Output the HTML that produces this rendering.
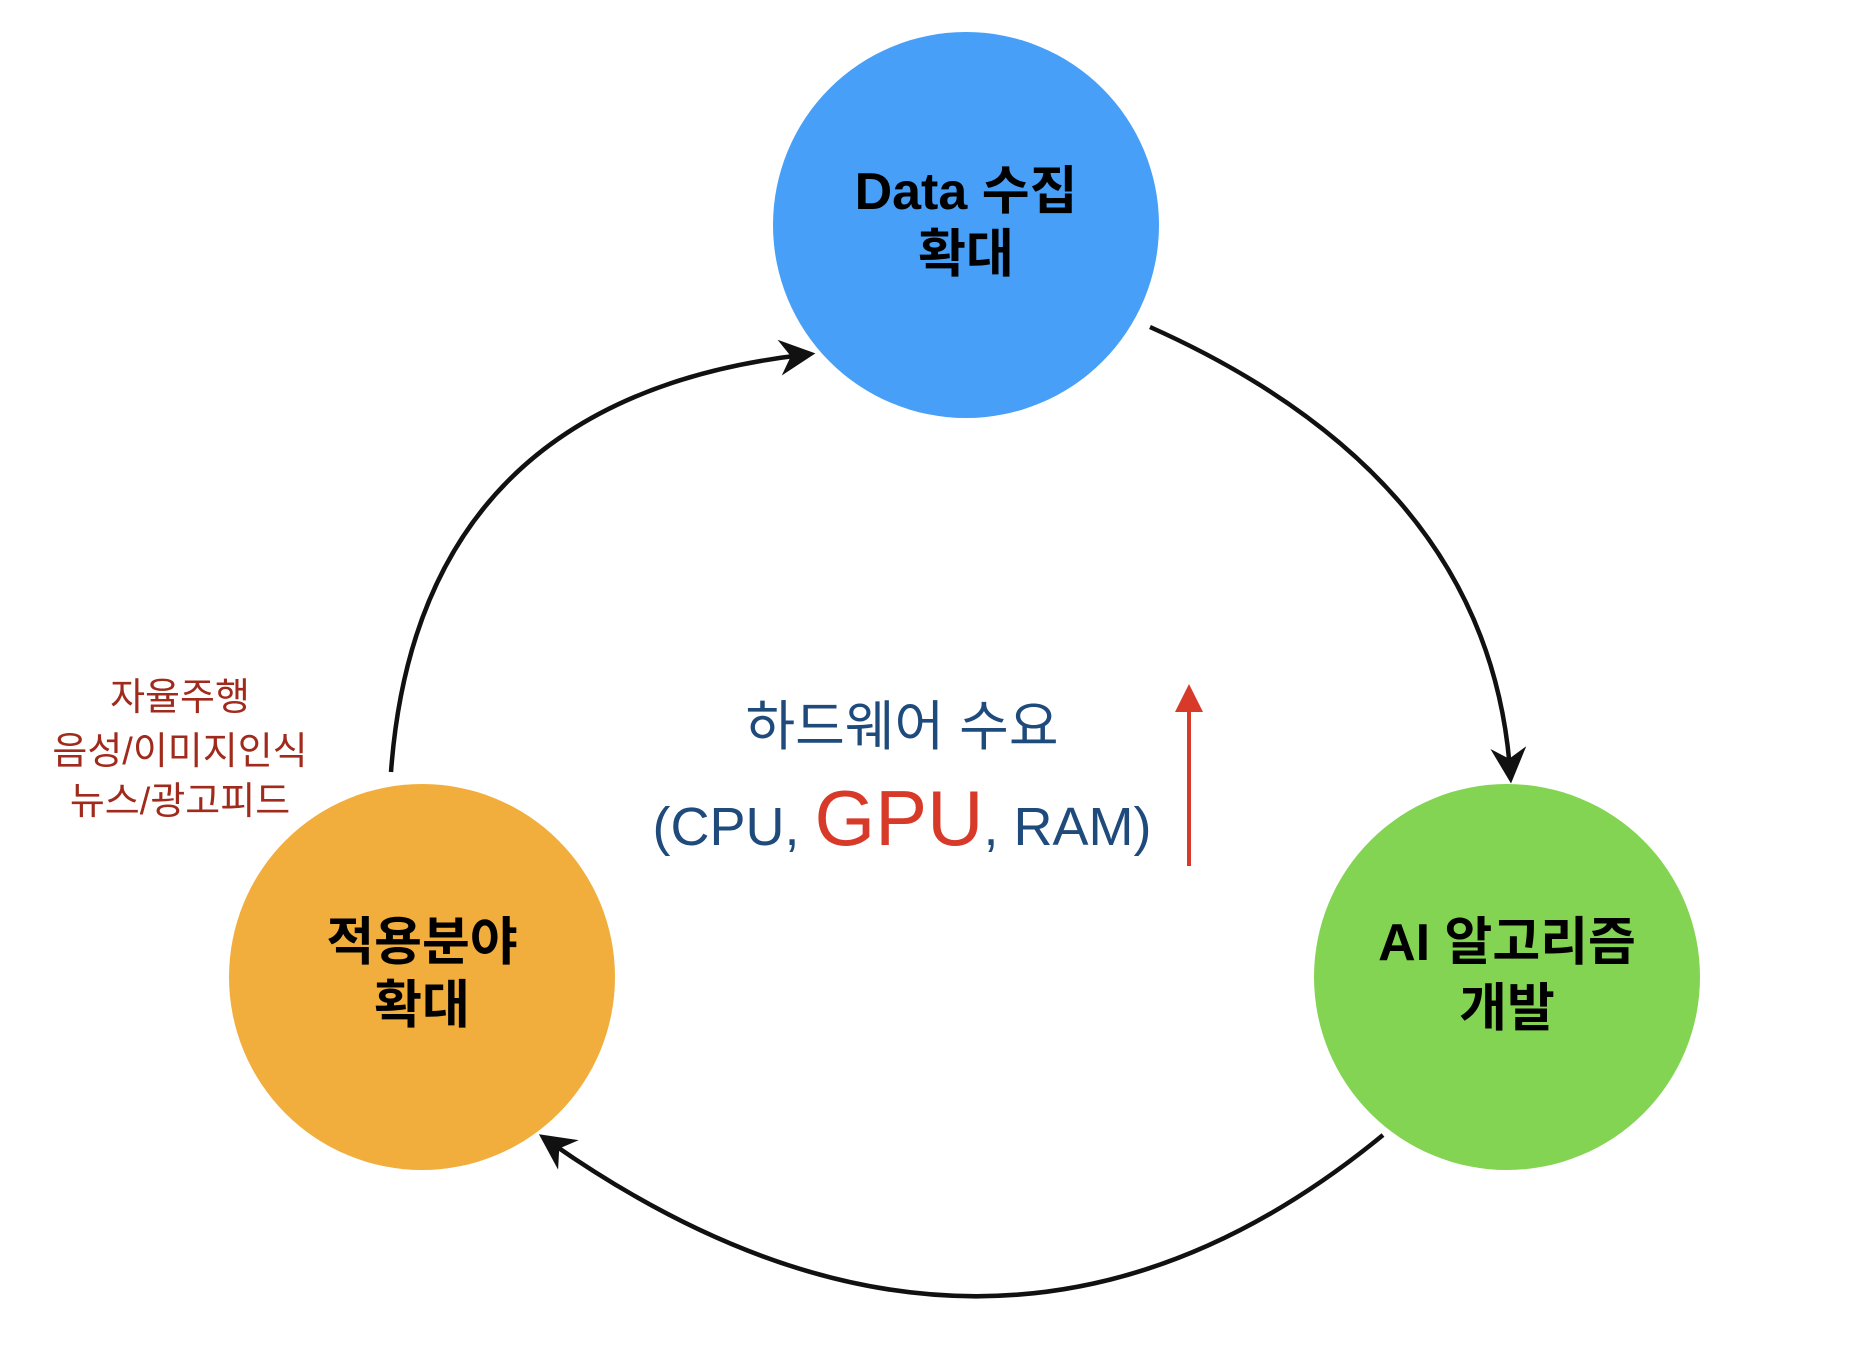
<!DOCTYPE html>
<html><head><meta charset="utf-8"><style>
html,body{margin:0;padding:0;background:#fff;}
body{width:1868px;height:1362px;position:relative;overflow:hidden;font-family:"Liberation Sans","Noto Sans CJK KR",sans-serif;}
.t{position:absolute;text-align:center;transform:translate(-50%,-50%);white-space:nowrap;line-height:1;}
</style></head><body>
<svg width="1868" height="1362" style="position:absolute;left:0;top:0">
<defs>
<marker id="ah" markerWidth="8" markerHeight="8" refX="5" refY="4" orient="auto" markerUnits="strokeWidth">
<path d="M0,0 L8,4 L0,8 L2.5,4 Z" fill="#111"/></marker>
<marker id="rh" markerWidth="7" markerHeight="7" refX="3" refY="3.5" orient="auto" markerUnits="strokeWidth">
<path d="M0,0 L7,3.5 L0,7 Z" fill="#d83a2a"/></marker>
</defs>
<circle cx="966" cy="225" r="193" fill="#479ff8"/>
<circle cx="422" cy="977" r="193" fill="#f2ae3d"/>
<circle cx="1507" cy="977" r="193" fill="#83d452"/>
<path d="M1150,327 Q1488,478 1510,770" fill="none" stroke="#111" stroke-width="4.5" marker-end="url(#ah)"/>
<path d="M1383,1135 Q995,1454 550,1142" fill="none" stroke="#111" stroke-width="4.5" marker-end="url(#ah)"/>
<path d="M391,772 Q418,400 802,355" fill="none" stroke="#111" stroke-width="4.5" marker-end="url(#ah)"/>
<line x1="1194" y1="866" x2="1194" y2="700" stroke="#d83a2a" stroke-width="4" marker-end="url(#rh)" transform="translate(-5,0)"/>
</svg>
<div class="t" style="left:966px;top:192px;font-size:52px;font-weight:bold">Data 수집</div>
<div class="t" style="left:966px;top:255px;font-size:52px;font-weight:bold">확대</div>
<div class="t" style="left:422px;top:943px;font-size:52px;font-weight:bold">적용분야</div>
<div class="t" style="left:422px;top:1006px;font-size:52px;font-weight:bold">확대</div>
<div class="t" style="left:1507px;top:943px;font-size:52px;font-weight:bold">AI 알고리즘</div>
<div class="t" style="left:1507px;top:1009px;font-size:52px;font-weight:bold">개발</div>
<div class="t" style="left:902px;top:727px;font-size:54px;color:#1f4a7c">하드웨어 수요</div>
<div class="t" style="left:902px;top:818px;font-size:54px;color:#1f4a7c">(CPU, <span style="color:#d83a2a;font-size:78px">GPU</span>, RAM)</div>
<div class="t" style="left:180px;top:698px;font-size:38px;color:#a02a1c">자율주행</div>
<div class="t" style="left:180px;top:752px;font-size:38px;color:#a02a1c">음성/이미지인식</div>
<div class="t" style="left:180px;top:802px;font-size:38px;color:#a02a1c">뉴스/광고피드</div>
</body></html>
